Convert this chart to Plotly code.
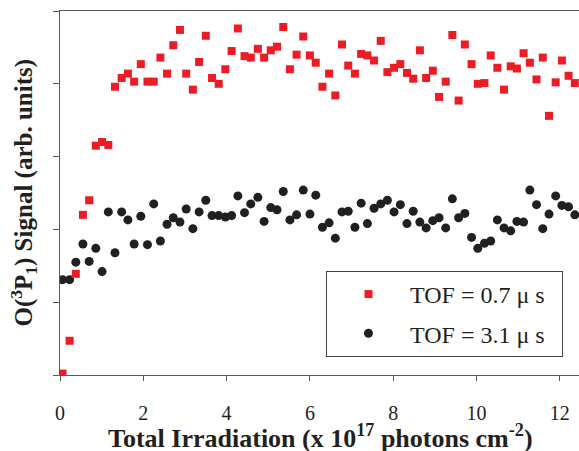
import plotly.graph_objects as go

# Total irradiation (x 10^17 photons cm^-2), shared by both TOF series
irradiation = [
    0.06, 0.23, 0.38, 0.55, 0.70, 0.86, 1.01, 1.16, 1.32, 1.48,
    1.63, 1.78, 1.94, 2.10, 2.25, 2.41, 2.57, 2.72, 2.88, 3.03,
    3.19, 3.34, 3.50, 3.65, 3.81, 3.97, 4.12, 4.27, 4.43, 4.58,
    4.75, 4.90, 5.06, 5.21, 5.36, 5.52, 5.68, 5.84, 6.00, 6.14,
    6.30, 6.46, 6.61, 6.77, 6.92, 7.08, 7.23, 7.38, 7.54, 7.70,
    7.86, 8.02, 8.17, 8.33, 8.48, 8.64, 8.79, 8.95, 9.10, 9.26,
    9.42, 9.57, 9.72, 9.88, 10.03, 10.19, 10.34, 10.50, 10.66, 10.82,
    10.97, 11.13, 11.28, 11.44, 11.59, 11.74, 11.90, 12.05, 12.21, 12.36,
]

# O(3P1) signal at TOF = 0.7 us
signal_fast = [
    0.02, 0.47, 1.39, 2.20, 2.40, 3.15, 3.20, 3.16, 3.96, 4.08,
    4.14, 4.03, 4.27, 4.03, 4.03, 4.36, 4.14, 4.53, 4.74, 4.14,
    3.92, 4.30, 4.66, 4.08, 4.00, 4.20, 4.45, 4.76, 4.38, 4.36,
    4.48, 4.36, 4.46, 4.51, 4.78, 4.20, 4.40, 4.65, 4.39, 4.29,
    3.96, 4.14, 3.84, 4.54, 4.25, 4.14, 4.41, 4.39, 4.32, 4.59,
    4.16, 4.22, 4.27, 4.15, 4.07, 4.46, 4.08, 4.18, 3.82, 4.03,
    4.67, 3.77, 4.54, 4.27, 4.00, 4.01, 4.39, 4.22, 3.92, 4.24,
    4.21, 4.42, 4.29, 4.06, 4.36, 3.56, 4.02, 4.32, 4.11, 4.01,
]

# O(3P1) signal at TOF = 3.1 us
signal_slow = [
    1.31, 1.31, 1.55, 1.80, 1.56, 1.74, 1.42, 2.24, 1.68, 2.24,
    2.13, 1.80, 2.18, 1.79, 2.35, 1.84, 2.07, 2.16, 2.10, 2.28,
    2.01, 2.24, 2.40, 2.19, 2.19, 2.17, 2.19, 2.46, 2.23, 2.35,
    2.44, 2.11, 2.30, 2.27, 2.52, 2.13, 2.20, 2.54, 2.21, 2.47,
    2.03, 2.09, 1.88, 2.24, 2.25, 2.03, 2.36, 2.08, 2.29, 2.35,
    2.40, 2.24, 2.34, 2.08, 2.25, 2.10, 2.02, 2.12, 2.16, 2.02,
    2.42, 2.16, 2.22, 1.89, 1.74, 1.81, 1.84, 2.13, 2.02, 1.98,
    2.11, 2.10, 2.54, 2.34, 2.01, 2.21, 2.46, 2.33, 2.31, 2.20,
]

x_ticks = [0, 2, 4, 6, 8, 10, 12]
y_ticks = [0, 1, 2, 3, 4, 5]

SERIF = "Liberation Serif, Times New Roman, serif"
RED = "#ED1C24"
DARK = "#231F20"
AXIS = "#5a5a5a"
PAD = "\u00a0\u00a0"

fig = go.Figure()

fig.add_trace(go.Scatter(
    x=irradiation, y=signal_slow, mode="markers",
    name="TOF = 3.1 μ s" + PAD, legendgroup="slow", legendrank=2,
    marker=dict(symbol="circle", size=9, color=DARK, line=dict(width=0)),
))
fig.add_trace(go.Scatter(
    x=irradiation, y=signal_fast, mode="markers",
    name="TOF = 0.7 μ s" + PAD, legendgroup="fast", legendrank=1,
    marker=dict(symbol="square", size=8, color=RED, line=dict(width=0)),
))

fig.update_layout(
    width=579, height=451,
    margin=dict(l=60, r=0, t=11, b=76),
    paper_bgcolor="white", plot_bgcolor="white",
    font=dict(family=SERIF, color=DARK),
    showlegend=True,
    legend=dict(
        x=0.5125, y=0.2857, xanchor="left", yanchor="top",
        bgcolor="white", bordercolor="#444444", borderwidth=1,
        font=dict(family=SERIF, size=24, color=DARK),
        tracegroupgap=5, itemwidth=73,
    ),
    xaxis=dict(
        range=[0, 12.46], tickvals=x_ticks,
        ticks="outside", ticklen=5, tickcolor=AXIS, tickwidth=1,
        showline=True, linecolor=AXIS, linewidth=1, mirror=True,
        showgrid=False, zeroline=False,
        tickfont=dict(family=SERIF, size=20, color=DARK),
        ticklabelstandoff=15,
    ),
    yaxis=dict(
        range=[0, 5], tickvals=y_ticks, showticklabels=False,
        ticks="outside", ticklen=6, tickcolor=AXIS, tickwidth=1,
        showline=True, linecolor=AXIS, linewidth=1,
        showgrid=False, zeroline=False,
    ),
    annotations=[
        dict(
            text="Total Irradiation (x 10<sup>17</sup> photons cm<sup>-2</sup>)",
            xref="paper", yref="paper", x=0.501, y=-0.168,
            xanchor="center", yanchor="middle", showarrow=False,
            font=dict(family=SERIF, size=26, color=DARK),
        ),
        dict(
            text="O(<sup>3</sup>P<sub>1</sub>) Signal (arb. units)",
            xref="paper", yref="paper", x=-0.0703, y=0.5,
            xanchor="center", yanchor="middle", textangle=-90, showarrow=False,
            font=dict(family=SERIF, size=25, color=DARK),
        ),
    ],
)
fig.layout.annotations[0].font.weight = "bold"
fig.layout.annotations[1].font.weight = "bold"

fig.write_html("out.html")
